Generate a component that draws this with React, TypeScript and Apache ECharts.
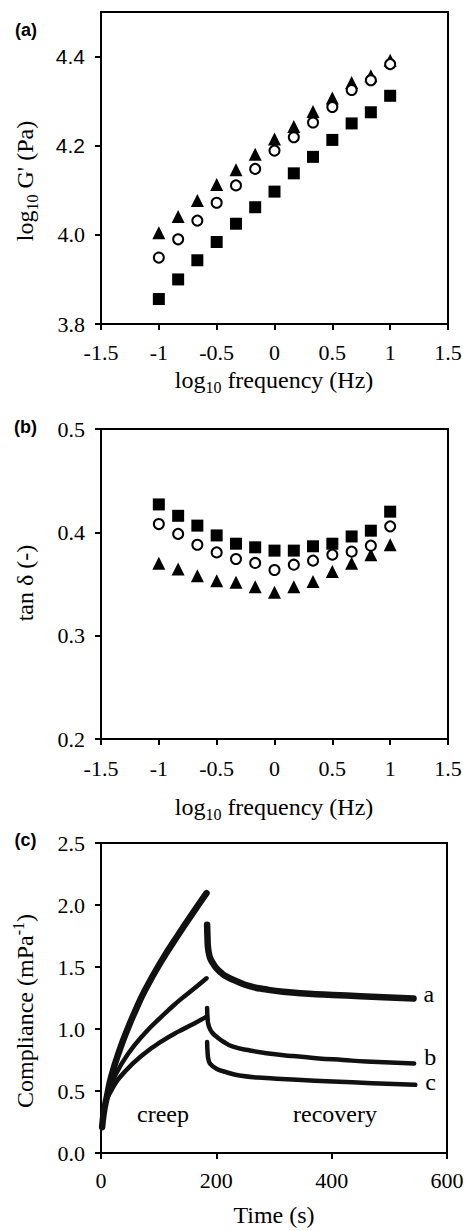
import React, { useEffect, useRef } from 'react';
import * as echarts from 'echarts';

const SERIF = 'Liberation Serif';
const SANS = 'Liberation Sans';

// Panel (a) and (b): log10 frequency (Hz)
const freq = [-1, -0.833, -0.667, -0.5, -0.333, -0.167, 0, 0.167, 0.333, 0.5, 0.667, 0.833, 1];
const gSquare = [3.856, 3.900, 3.943, 3.984, 4.025, 4.062, 4.097, 4.138, 4.175, 4.213, 4.250, 4.275, 4.312];
const gCircle = [3.949, 3.990, 4.032, 4.072, 4.111, 4.148, 4.189, 4.219, 4.252, 4.287, 4.325, 4.347, 4.383];
const gTriangle = [4.005, 4.041, 4.077, 4.113, 4.146, 4.181, 4.215, 4.243, 4.277, 4.307, 4.342, 4.357, 4.392];

const tanSquare = [0.427, 0.416, 0.4065, 0.397, 0.389, 0.3855, 0.3823, 0.3823, 0.3865, 0.389, 0.396, 0.4016, 0.420];
const tanCircle = [0.408, 0.3985, 0.388, 0.3806, 0.3742, 0.3704, 0.3636, 0.3687, 0.3726, 0.3784, 0.3813, 0.3871, 0.4058];
const tanTriangle = [0.370, 0.3646, 0.358, 0.3532, 0.3516, 0.3474, 0.342, 0.3474, 0.3523, 0.362, 0.370, 0.3784, 0.388];

// Panel (c): creep / recovery compliance
const creepATime = [2, 5, 10, 18, 33, 47, 57, 76, 105, 134, 160, 183];
const creepAComp = [0.21, 0.33, 0.45, 0.62, 0.84, 1.01, 1.12, 1.31, 1.55, 1.76, 1.94, 2.095];
const creepBTime = [2, 6, 12.7, 24, 47, 76, 105, 120, 137, 160, 183];
const creepBComp = [0.21, 0.36, 0.49, 0.62, 0.80, 0.966, 1.10, 1.165, 1.235, 1.32, 1.409];
const creepCTime = [2, 6.9, 18.5, 41.6, 76, 105, 134, 160, 183];
const creepCComp = [0.2, 0.375, 0.51, 0.657, 0.805, 0.90, 0.979, 1.04, 1.10];

const recATime = [184, 184.6, 185.5, 188, 191, 195, 200, 208, 218, 235, 258, 285, 316, 360, 402, 450, 490, 542];
const recAComp = [1.84, 1.75, 1.66, 1.59, 1.555, 1.525, 1.49, 1.455, 1.422, 1.385, 1.345, 1.32, 1.30, 1.285, 1.275, 1.264, 1.256, 1.245];
const recBTime = [184, 184.8, 186, 189, 193, 200, 213, 229, 255, 287, 330, 373, 420, 460, 543];
const recBComp = [1.17, 1.09, 1.04, 1.0, 0.97, 0.939, 0.895, 0.858, 0.83, 0.805, 0.783, 0.765, 0.75, 0.738, 0.722];
const recCTime = [184, 185, 186.5, 190, 200, 215, 240, 287, 340, 402, 470, 545];
const recCComp = [0.895, 0.80, 0.75, 0.715, 0.68, 0.655, 0.625, 0.604, 0.59, 0.577, 0.563, 0.55];

const gTicks = [3.8, 4.0, 4.2, 4.4];
const curveLabels = ['a', 'b', 'c'];
const curveLabelOffsets = [-5, -6, -3];

const zip = (xs: number[], ys: number[]) => xs.map((x, i) => [x, ys[i]]);

const axisLineStyle = { show: true, onZero: false, lineStyle: { color: '#000', width: 2 } };
const axisTickStyle = { show: true, inside: false, length: 6, lineStyle: { color: '#000', width: 2 } };
const labelBase = { color: '#000', fontFamily: SERIF, fontSize: 22 };

const RICH = {
  m: { fontFamily: SERIF, fontSize: 24, lineHeight: 30, fill: '#000', color: '#000' },
  s: { fontFamily: SERIF, fontSize: 16, lineHeight: 14, verticalAlign: 'bottom', fill: '#000', color: '#000' },
  p: { fontFamily: SERIF, fontSize: 16, lineHeight: 14, verticalAlign: 'top', fill: '#000', color: '#000' },
};

function titleText(x: number, y: number, text: string, rotate: boolean) {
  return {
    type: 'text',
    x,
    y,
    rotation: rotate ? Math.PI / 2 : 0,
    silent: true,
    style: {
      text,
      rich: RICH,
      fill: '#000',
      align: 'center',
      verticalAlign: 'middle',
      fontFamily: SERIF,
      fontSize: 24,
    },
  };
}

function plainText(x: number, y: number, text: string, family: string, size: number, weight: string) {
  return {
    type: 'text',
    x,
    y,
    silent: true,
    style: {
      text,
      fill: '#000',
      align: 'center',
      verticalAlign: 'middle',
      fontFamily: family,
      fontSize: size,
      fontWeight: weight,
    },
  };
}

function scatter(name: string, values: number[], symbol: string, axis: number, hollow: boolean) {
  return {
    name,
    type: 'scatter',
    xAxisIndex: axis,
    yAxisIndex: axis,
    data: zip(freq, values),
    symbol,
    symbolSize: symbol === 'rect' ? 12 : symbol === 'triangle' ? 13 : 10,
    itemStyle: hollow
      ? { color: '#fff', borderColor: '#000', borderWidth: 2, opacity: 1 }
      : { color: '#000', borderWidth: 0, opacity: 1 },
    z: hollow ? 4 : 3,
  };
}

function curve(name: string, xs: number[], ys: number[], width: number, idx?: number) {
  const s: any = {
    name,
    type: 'line',
    xAxisIndex: 2,
    yAxisIndex: 2,
    data: zip(xs, ys),
    showSymbol: false,
    smooth: 0.5,
    lineStyle: { color: '#111', width, cap: 'round', join: 'round' },
    z: 3,
  };
  if (idx !== undefined) {
    s.endLabel = {
      show: true,
      formatter: curveLabels[idx],
      fontFamily: SERIF,
      fontSize: 24,
      lineHeight: 22,
      color: '#000',
      distance: 10,
      offset: [0, curveLabelOffsets[idx]],
    };
  }
  return s;
}

export default function App() {
  const ref = useRef<HTMLDivElement>(null);

  useEffect(() => {
    document.body.style.margin = '0';
    const chart = echarts.init(ref.current as HTMLDivElement, null, { renderer: 'svg' });

    const gridBorder = { show: true, borderColor: '#000', borderWidth: 2, backgroundColor: 'transparent' };

    const option: any = {
      animation: false,
      backgroundColor: '#fff',
      grid: [
        { left: 101, top: 12, width: 347, height: 312, ...gridBorder },
        { left: 101, top: 429, width: 347, height: 310, ...gridBorder },
        { left: 101, top: 843, width: 346, height: 310, ...gridBorder },
      ],
      xAxis: [
        {
          gridIndex: 0, type: 'value', min: -1.5, max: 1.5, interval: 0.5,
          axisLine: axisLineStyle, axisTick: axisTickStyle, splitLine: { show: false },
          axisLabel: { ...labelBase, margin: 17 },
        },
        {
          gridIndex: 1, type: 'value', min: -1.5, max: 1.5, interval: 0.5,
          axisLine: axisLineStyle, axisTick: axisTickStyle, splitLine: { show: false },
          axisLabel: { ...labelBase, margin: 18 },
        },
        {
          gridIndex: 2, type: 'value', min: 0, max: 600, interval: 200,
          axisLine: axisLineStyle, axisTick: axisTickStyle, splitLine: { show: false },
          axisLabel: { ...labelBase, margin: 16 },
        },
      ],
      yAxis: [
        {
          gridIndex: 0, type: 'value', min: 3.8, max: 4.5, interval: 0.1,
          axisLine: axisLineStyle,
          axisTick: { ...axisTickStyle, customValues: gTicks },
          splitLine: { show: false },
          axisLabel: {
            ...labelBase,
            margin: 16,
            customValues: gTicks,
            formatter: (v: number) => {
              const ok = gTicks.some((t) => Math.abs(t - v) < 1e-6);
              if (!ok) return '';
              return v > 4.1 ? `{s|${v.toFixed(1)}}` : `{r|${v.toFixed(1)}}`;
            },
            rich: {
              s: { fontFamily: SANS, fontSize: 21, color: '#000' },
              r: { fontFamily: SERIF, fontSize: 22, color: '#000' },
            },
          },
        },
        {
          gridIndex: 1, type: 'value', min: 0.2, max: 0.5, interval: 0.1,
          axisLine: axisLineStyle, axisTick: axisTickStyle, splitLine: { show: false },
          axisLabel: { ...labelBase, margin: 16, formatter: (v: number) => v.toFixed(1) },
        },
        {
          gridIndex: 2, type: 'value', min: 0, max: 2.5, interval: 0.5,
          axisLine: axisLineStyle, axisTick: axisTickStyle, splitLine: { show: false },
          axisLabel: { ...labelBase, margin: 16, formatter: (v: number) => v.toFixed(1) },
        },
      ],
      series: [
        scatter('G square', gSquare, 'rect', 0, false),
        scatter('G triangle', gTriangle, 'triangle', 0, false),
        scatter('G circle', gCircle, 'circle', 0, true),
        scatter('tan square', tanSquare, 'rect', 1, false),
        scatter('tan triangle', tanTriangle, 'triangle', 1, false),
        scatter('tan circle', tanCircle, 'circle', 1, true),
        curve('creep a', creepATime, creepAComp, 6.5),
        curve('creep b', creepBTime, creepBComp, 4.5),
        curve('creep c', creepCTime, creepCComp, 4.5),
        curve('recovery a', recATime, recAComp, 6.5, 0),
        curve('recovery b', recBTime, recBComp, 4.5, 1),
        curve('recovery c', recCTime, recCComp, 4.5, 2),
      ],
      graphic: [
        plainText(26, 29.5, '(a)', SANS, 18, 'bold'),
        plainText(25.5, 427, '(b)', SANS, 18, 'bold'),
        plainText(25.5, 840, '(c)', SANS, 18, 'bold'),
        titleText(274, 380, '{m|log}{s|10}{m| frequency (Hz)}', false),
        titleText(274, 807, '{m|log}{s|10}{m| frequency (Hz)}', false),
        titleText(274, 1214.5, '{m|Time (s)}', false),
        titleText(25, 181, "{m|log}{s|10}{m| G' (Pa)}", true),
        titleText(25, 583, '{m|tan δ (-)}', true),
        titleText(25, 1011, '{m|Compliance (mPa}{p|-1}{m|)}', true),
        plainText(163, 1114, 'creep', SERIF, 24, 'normal'),
        plainText(335, 1114, 'recovery', SERIF, 24, 'normal'),
      ],
    };

    chart.setOption(option);
    return () => chart.dispose();
  }, []);

  return <div ref={ref} style={{ width: 467, height: 1231 }} />;
}
